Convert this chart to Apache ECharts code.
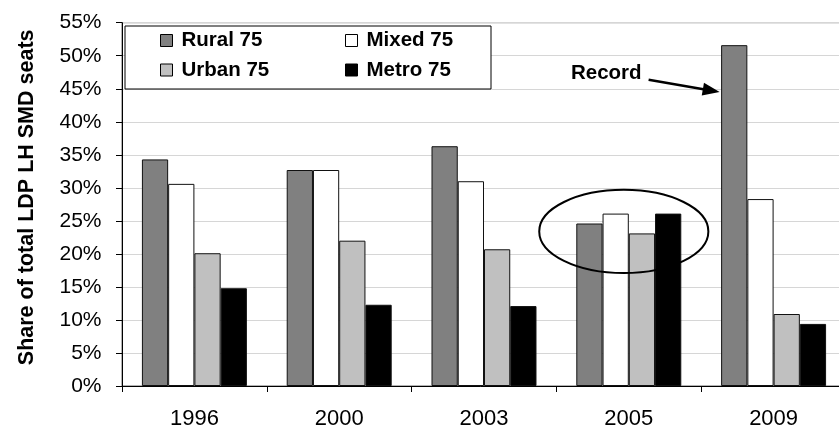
<!DOCTYPE html>
<html>
<head>
<meta charset="utf-8">
<script src="https://cdn.jsdelivr.net/npm/echarts@6/dist/echarts.min.js"></script>
<style>
  html, body { margin: 0; padding: 0; background: #fff; }
  #chart { width: 839px; height: 426px; }
</style>
</head>
<body>
<div id="chart"></div>
<script>
// Election years on the category axis
const years = ['1996', '2000', '2003', '2005', '2009'];

// Share of total LDP lower-house SMD seats (%) by district type
const rural = [34.3, 32.7, 36.3, 24.6, 51.6];
const mixed = [30.6, 32.7, 31.0, 26.1, 28.3];
const urban = [20.1, 22.0, 20.7, 23.1, 10.9];
const metro = [14.8, 12.3, 12.1, 26.1, 9.4];

const seriesNames = ['Rural 75', 'Mixed 75', 'Urban 75', 'Metro 75'];
const seriesValues = [rural, mixed, urban, metro];
const seriesColors = ['#808080', '#ffffff', '#c0c0c0', '#000000'];

const FONT = "'Liberation Sans', Arial, sans-serif";
const CAT_GAP = 0.275;

const chart = echarts.init(document.getElementById('chart'), null, { renderer: 'canvas' });

const legendCommon = {
  orient: 'vertical',
  padding: 0,
  itemWidth: 12,
  itemHeight: 12,
  itemGap: 8.5,
  icon: 'rect',
  z: 10,
  selectedMode: false,
  itemStyle: { borderColor: '#000', borderWidth: 1 },
  textStyle: {
    fontFamily: FONT, fontSize: 20.5, fontWeight: 'bold', color: '#000',
    lineHeight: 20, padding: [0, 0, 0, 4]
  }
};

const option = {
  animation: false,
  backgroundColor: '#fff',
  grid: {
    left: 122, top: 22.7, right: -7, bottom: 40,
    containLabel: false,
    outerBoundsMode: 'none',
    show: true, borderColor: '#666', borderWidth: 1, backgroundColor: 'transparent'
  },
  legend: [
    Object.assign({}, legendCommon, { data: ['Rural 75', 'Urban 75'], left: 160, top: 30 }),
    Object.assign({}, legendCommon, { data: ['Mixed 75', 'Metro 75'], left: 345, top: 30 })
  ],
  xAxis: {
    type: 'category',
    data: years,
    axisLine: { lineStyle: { color: '#000', width: 1 } },
    axisTick: { show: true, length: 6, lineStyle: { color: '#000' } },
    axisLabel: { fontFamily: FONT, fontSize: 22, color: '#000', margin: 22 }
  },
  yAxis: {
    type: 'value',
    min: 0, max: 55, interval: 5,
    name: 'Share of total LDP LH SMD seats',
    nameLocation: 'middle',
    nameGap: 84,
    nameTextStyle: {
      fontFamily: FONT, fontSize: 21.5, fontWeight: 'bold', color: '#000',
      padding: [0, 0, 0, 14]
    },
    axisLine: { show: true, lineStyle: { color: '#000', width: 1 } },
    axisTick: { show: true, length: 6, lineStyle: { color: '#000' } },
    axisLabel: { fontFamily: FONT, fontSize: 21, color: '#000', margin: 20.5, formatter: '{value}%' },
    splitLine: { show: true, lineStyle: { color: '#d6d6d6', width: 1.2 } }
  },
  series: seriesNames.map((name, i) => ({
    name: name,
    type: 'bar',
    data: seriesValues[i],
    barGap: '0%',
    barCategoryGap: (CAT_GAP * 100) + '%',
    itemStyle: { color: seriesColors[i], borderColor: '#111', borderWidth: 1 }
  }))
};

chart.setOption(option);

// Annotations anchored to the axes: legend frame, "Record" arrow, 2005 ellipse
function px(cat, val) {
  return chart.convertToPixel({ xAxisIndex: 0, yAxisIndex: 0 }, [cat, val]);
}
const band = px(1, 0)[0] - px(0, 0)[0];
const barW = band * (1 - CAT_GAP) / 4;

// Arrow pointing at the 2009 rural bar
const c09 = px(4, 44.5);
const tip = [c09[0] - 2 * barW - 1.5, c09[1]];
const tail = [tip[0] - 71, tip[1] - 12.4];
const dx = tip[0] - tail[0], dy = tip[1] - tail[1];
const len = Math.hypot(dx, dy);
const ux = dx / len, uy = dy / len;
const headLen = 17, headHalf = 6.5;
const base = [tip[0] - ux * headLen, tip[1] - uy * headLen];
const head = [
  tip,
  [base[0] - uy * headHalf, base[1] + ux * headHalf],
  [base[0] + uy * headHalf, base[1] - ux * headHalf]
];

// Ellipse around the 2005 group
const c05 = px(3, 23.4);
const rx = band * 0.584;
const ry = px(3, 23.4 - 6.3)[1] - c05[1];

chart.setOption({
  graphic: [
    {
      type: 'rect', z: 5,
      shape: { x: 125, y: 26, width: 366, height: 63 },
      style: { fill: '#fff', stroke: '#000', lineWidth: 1 }
    },
    {
      type: 'line', z: 6,
      shape: { x1: tail[0], y1: tail[1], x2: base[0] + ux * 2, y2: base[1] + uy * 2 },
      style: { stroke: '#000', lineWidth: 2.5 }
    },
    {
      type: 'polygon', z: 6,
      shape: { points: head },
      style: { fill: '#000' }
    },
    {
      type: 'text', z: 6,
      x: tail[0] - 7, y: tail[1] - 6,
      style: {
        text: 'Record', fontFamily: FONT, fontSize: 20.5, fontWeight: 'bold',
        fill: '#000', align: 'right', verticalAlign: 'middle'
      }
    },
    {
      type: 'ellipse', z: 6,
      shape: { cx: c05[0] - 5, cy: c05[1], rx: rx, ry: ry },
      style: { fill: 'none', stroke: '#000', lineWidth: 2 }
    }
  ]
});
</script>
</body>
</html>
